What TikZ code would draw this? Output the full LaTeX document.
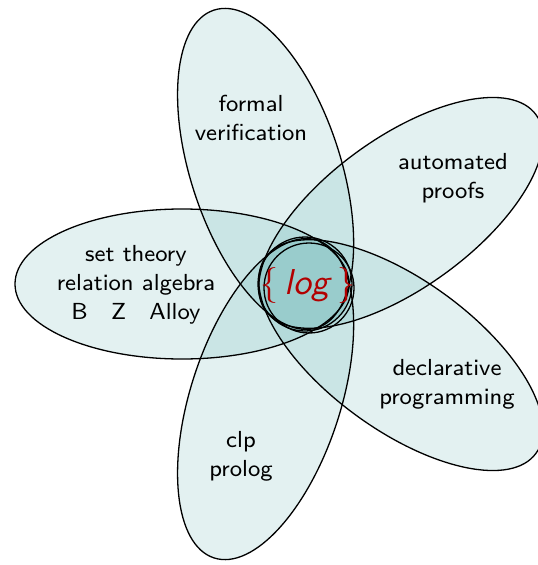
\documentclass[tikz,border=0pt]{standalone}
\renewcommand{\familydefault}{\sfdefault}
\tikzset{
  petal/.style={fill=teal, fill opacity=0.11},
  rim/.style={draw=black, line width=1.3pt},
  label/.style={align=center, font=\fontsize{8}{10}\selectfont, scale=2.9},
}
\begin{document}
\begin{tikzpicture}[x=1pt, y=-1pt]
	\useasboundingbox (0,0) rectangle (538,565);
	\clip (0,0) rectangle (538,565);
	\coordinate (c) at (303,284);
	% petals: fills first, then outlines
	\foreach \a in {180,108,36,-36,-108}
		\fill[petal, shift={(c)}, rotate=-\a] (121,0) ellipse (167 and 75);
	\fill[teal!40] (305,284) circle (47);
	\foreach \a in {180,108,36,-36,-108}
		\draw[rim, shift={(c)}, rotate=-\a] (121,0) ellipse (167 and 75);
	\draw[rim] (305,284) circle (47);
	\draw[rim] (309,288) circle (45);
	\node[scale=3.6] (logo) at (308,285) {\fontsize{10}{12}\selectfont\color{red!70!black}$\{$\,\textit{log}\,$\}$};
	\node[label] (fv) at (251,118) {formal\\verification};
	\node[label] (ap) at (453,178) {automated\\proofs};
	\node[label] (st) at (136,285) {set theory\\relation algebra\\B\quad Z\quad Alloy};
	\node[label] (dp) at (447,384) {declarative\\programming};
	\node[label] (cl) at (241,456) {clp\\prolog};
\end{tikzpicture}
\end{document}
